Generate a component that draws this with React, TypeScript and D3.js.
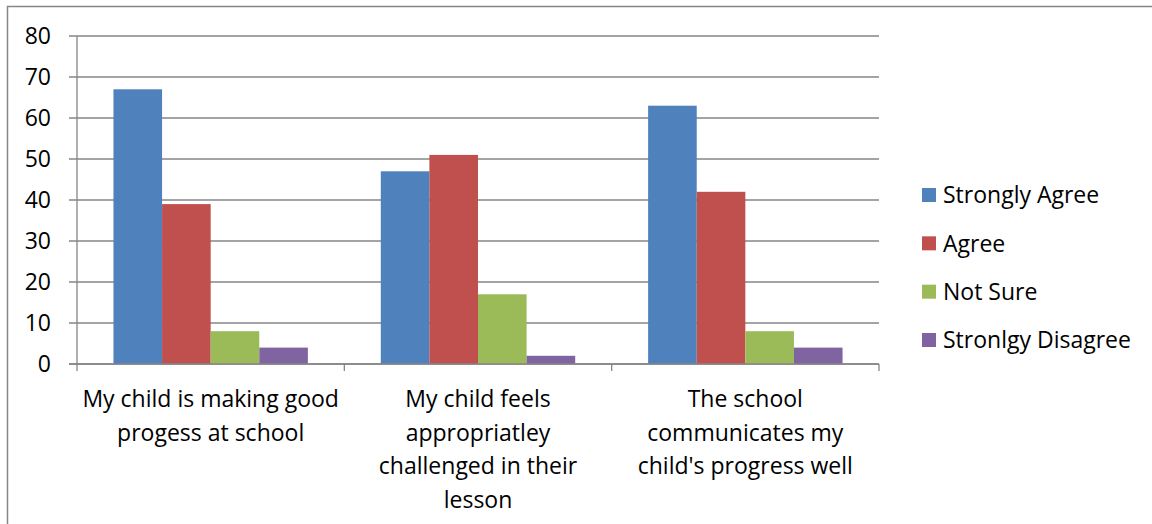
import React from 'react';
import * as d3 from 'd3';

// chart data
const categories = [
  'My child is making good progess at school',
  'My child feels appropriatley challenged in their lesson',
  "The school communicates my child's progress well",
];
const categoryLines = [
  ['My child is making good', 'progess at school'],
  ['My child feels', 'appropriatley', 'challenged in their', 'lesson'],
  ['The school', 'communicates my', "child's progress well"],
];
const seriesNames = ['Strongly Agree', 'Agree', 'Not Sure', 'Stronlgy Disagree'];
const stronglyAgree = [67, 47, 63];
const agree = [39, 51, 42];
const notSure = [8, 17, 8];
const stronglyDisagree = [4, 2, 4];
const yTicks = [0, 10, 20, 30, 40, 50, 60, 70, 80];
const colors = ['#4F81BD', '#C0504D', '#9BBB59', '#8064A2'];

function App() {
  const w = 1152,
    h = 524;
  const plot = { left: 77, right: 879, top: 36, bottom: 364 };
  const font = '"Open Sans", Lato, sans-serif';
  const fs = 23;

  const series = [stronglyAgree, agree, notSure, stronglyDisagree];

  const y = d3.scaleLinear().domain([0, 80]).range([plot.bottom, plot.top]);
  const x0 = d3.scaleBand().domain(categories).range([plot.left, plot.right]).padding(0);
  const bw = x0.bandwidth();
  // gap width 150% -> bar width = band / 5.5
  const barW = bw / 5.5;
  const x1 = d3
    .scaleBand()
    .domain(seriesNames)
    .range([barW * 0.75, bw - barW * 0.75])
    .padding(0);

  const legendY = d3.scalePoint().domain(seriesNames).range([195, 340]);

  return (
    <svg width={w} height={h} style={{ position: 'absolute', left: 0, top: 0, background: '#fff' }}>
      {/* outer border */}
      <rect x={7.5} y={6.5} width={w + 10} height={h + 10} fill="#fff" stroke="#868686" strokeWidth={1.5} />

      {/* gridlines and y labels */}
      {yTicks.map((t) => (
        <g key={t}>
          <line x1={plot.left - 8} x2={plot.right} y1={y(t)} y2={y(t)} stroke="#868686" strokeWidth={1.3} />
          <text
            x={51}
            y={y(t)}
            dy="0.36em"
            textAnchor="end"
            fontFamily={font}
            fontSize={fs}
            fill="#000"
          >
            {t}
          </text>
        </g>
      ))}

      {/* y axis */}
      <line x1={plot.left} x2={plot.left} y1={plot.top} y2={plot.bottom} stroke="#868686" strokeWidth={1.3} />

      {/* bars */}
      {categories.map((c, i) => (
        <g key={c} transform={`translate(${x0(c)},0)`}>
          {series.map((s, j) => (
            <rect
              key={j}
              x={x1(seriesNames[j])}
              y={y(s[i])}
              width={x1.bandwidth()}
              height={y(0) - y(s[i])}
              fill={colors[j]}
            />
          ))}
        </g>
      ))}

      {/* x axis and category ticks */}
      <line x1={plot.left - 8} x2={plot.right} y1={plot.bottom} y2={plot.bottom} stroke="#868686" strokeWidth={1.3} />
      {[...categories.map((c) => x0(c)), plot.right].map((tx, i) => (
        <line key={i} x1={tx} x2={tx} y1={plot.bottom} y2={plot.bottom + 7} stroke="#868686" strokeWidth={1.3} />
      ))}

      {/* category labels */}
      {categories.map((c, i) => (
        <text
          key={c}
          x={x0(c) + bw / 2}
          y={407}
          textAnchor="middle"
          fontFamily={font}
          fontSize={fs}
          fill="#000"
        >
          {categoryLines[i].map((line, k) => (
            <tspan key={k} x={x0(c) + bw / 2} dy={k === 0 ? 0 : 33.5}>
              {line}
            </tspan>
          ))}
        </text>
      ))}

      {/* legend */}
      {seriesNames.map((name, j) => (
        <g key={name} transform={`translate(922,${legendY(name)})`}>
          <rect x={0} y={-7} width={14} height={14} fill={colors[j]} />
          <text x={21} y={0} dy="0.36em" fontFamily={font} fontSize={fs} fill="#000">
            {name}
          </text>
        </g>
      ))}
    </svg>
  );
}

export default App;
